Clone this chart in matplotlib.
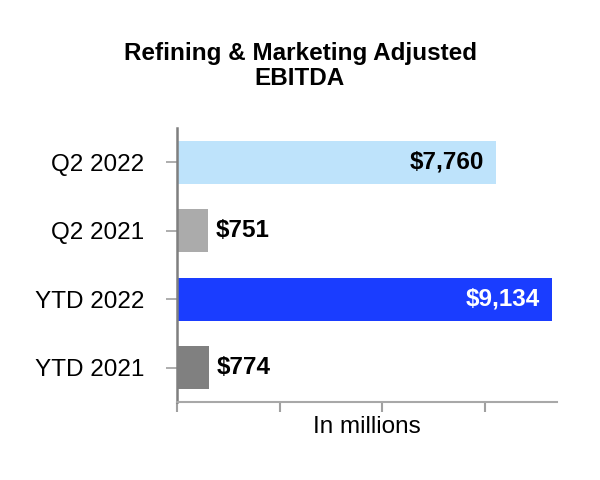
import matplotlib
matplotlib.use("Agg")
import matplotlib.pyplot as plt

categories = ["Q2 2022", "Q2 2021", "YTD 2022", "YTD 2021"]
values = [7760, 751, 9134, 774]
value_labels = ["$7,760", "$751", "$9,134", "$774"]
colors = ["#BEE3FB", "#ABABAB", "#1A3DFF", "#808080"]
label_inside = [True, False, True, False]
label_colors = ["black", "black", "white", "black"]

plt.rcParams["font.family"] = ["Liberation Sans", "DejaVu Sans"]

fig = plt.figure(figsize=(6, 4.8), dpi=100)
ax = fig.add_axes([0.295, 0.1625, 0.633, 0.571])

y = list(range(len(categories)))
ax.barh(y, values, height=0.63, color=colors, zorder=2)
ax.set_ylim(3.5, -0.5)
ax.set_xlim(0, 9250)
ax.set_xticks([0, 2500, 5000, 7500])
ax.set_xticklabels([])
ax.set_yticks(y)
ax.set_yticklabels(categories, fontsize=17.5)

for i, v in enumerate(values):
    if label_inside[i]:
        ax.annotate(value_labels[i], (v, i), xytext=(-12, 0), textcoords="offset pixels",
                    ha="right", va="center", fontsize=17.5, fontweight="bold", color=label_colors[i])
    else:
        ax.annotate(value_labels[i], (v, i), xytext=(8, 0), textcoords="offset pixels",
                    ha="left", va="center", fontsize=17.5, fontweight="bold", color=label_colors[i])

for s in ["top", "right"]:
    ax.spines[s].set_visible(False)
ax.spines["left"].set_color("#7F7F7F")
ax.spines["left"].set_linewidth(1.8)
ax.spines["bottom"].set_color("#A8A8A8")
ax.spines["bottom"].set_linewidth(1.5)
ax.tick_params(axis="y", length=8, width=1.2, color="#A0A0A0", pad=15.5)
ax.tick_params(axis="x", length=7.5, width=1.5, color="#A0A0A0")

ax.set_xlabel("In millions", fontsize=17.5, labelpad=-1)
fig.text(0.5, 0.8625, "Refining & Marketing Adjusted\nEBITDA", ha="center", va="center",
         fontsize=17.5, fontweight="bold", linespacing=1.15)

fig.savefig("out.png", dpi=100)
